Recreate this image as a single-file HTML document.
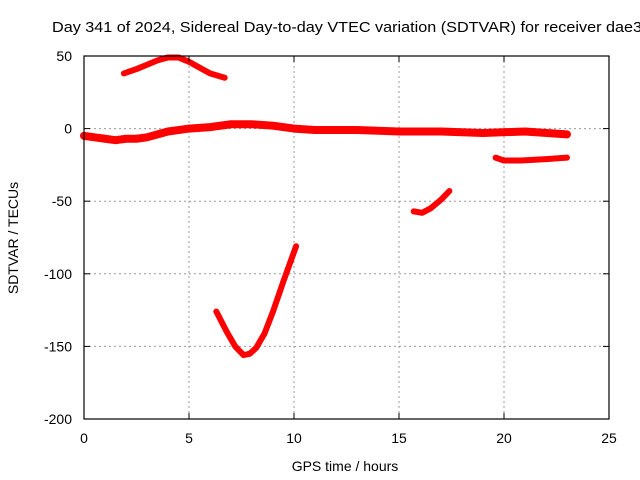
<!DOCTYPE html>
<html><head><meta charset="utf-8"><style>
body{margin:0;background:#fff;}
svg{display:block;font-family:"Liberation Sans",sans-serif;}
</style></head><body>
<svg id="c" width="640" height="480">
<text x="52" y="32" font-size="15" textLength="590" lengthAdjust="spacingAndGlyphs">Day 341 of 2024, Sidereal Day-to-day VTEC variation (SDTVAR) for receiver dae3</text>
<text x="345" y="471" font-size="14" text-anchor="middle">GPS time / hours</text>
<text x="18" y="238" font-size="14" text-anchor="middle" transform="rotate(-90 18 238)">SDTVAR / TECUs</text>
<g id="grid"></g><g id="series"></g>
<rect x="84" y="56" width="525" height="363" fill="none" stroke="#000" stroke-width="1.2"/>
<g id="ticks"></g>
</svg>
<script>
const xTicks=[0,5,10,15,20,25];
const yTicks=[50,0,-50,-100,-150,-200];
const mainX=[0,0.5,1,1.5,2,2.5,3,3.5,4,4.5,5,6,7,8,9,10,11,13,15,17,19,21,23];
const mainY=[-5,-6,-7,-8,-7,-7,-6,-4,-2,-1,0,1,3,3,2,0,-1,-1,-2,-2,-3,-2,-4];
const humpX=[1.9,2.5,3,3.5,4,4.5,5,5.5,6,6.7];
const humpY=[38,41,44,47,49,49,46,42,38,35];
const vX=[6.3,6.8,7.2,7.6,7.9,8.2,8.6,9,9.5,10.1];
const vY=[-126,-140,-150,-156,-155,-151,-141,-126,-105,-81];
const dX=[15.7,16.1,16.5,17,17.4];
const dY=[-57,-58,-55,-49,-43];
const eX=[19.6,20,20.8,22,23];
const eY=[-20,-22,-22,-21,-20];
const NS='http://www.w3.org/2000/svg';
const sx=v=>84+v*21, sy=v=>56+(50-v)*1.452;
const grid=document.getElementById('grid'),tk=document.getElementById('ticks'),ser=document.getElementById('series');
function mk(t,a,p){const e=document.createElementNS(NS,t);for(const k in a)e.setAttribute(k,a[k]);p.appendChild(e);return e;}
xTicks.forEach(v=>{
 if(v>0&&v<25){const g=mk('line',{x1:sx(v),x2:sx(v),y1:56,y2:419,stroke:'#999','stroke-dasharray':'2,3'},grid);
 
 }
 const t=mk('text',{x:sx(v),y:443,'font-size':14,'text-anchor':'middle'},tk);t.textContent=v;
 
 
 mk('line',{x1:sx(v),x2:sx(v),y1:419,y2:413,stroke:'#000'},tk);mk('line',{x1:sx(v),x2:sx(v),y1:56,y2:62,stroke:'#000'},tk);
});
yTicks.forEach(v=>{
 if(v<50&&v>-200){const g=mk('line',{x1:84,x2:609,y1:sy(v),y2:sy(v),stroke:'#999','stroke-dasharray':'2,3'},grid);
 
 }
 const t=mk('text',{x:72,y:sy(v)+5,'font-size':14,'text-anchor':'end'},tk);t.textContent=v;
 
 
 mk('line',{x1:84,x2:90,y1:sy(v),y2:sy(v),stroke:'#000'},tk);mk('line',{x1:609,x2:603,y1:sy(v),y2:sy(v),stroke:'#000'},tk);
});
[[mainX,mainY,'main-series',8],[humpX,humpY,'hump-series',6],[vX,vY,'v-series',6],[dX,dY,'short-series',6],[eX,eY,'late-series',6]].forEach(([xs,ys,n,w])=>{
 const p=mk('polyline',{points:xs.map((x,i)=>sx(x)+','+sy(ys[i])).join(' '),fill:'none',stroke:'#f00','stroke-width':w,'stroke-linejoin':'round','stroke-linecap':'round'},ser);
 
 
});
</script>
</body></html>
